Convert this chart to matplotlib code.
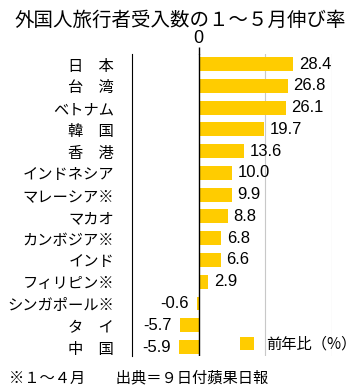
import matplotlib
matplotlib.use("Agg")
import matplotlib.pyplot as plt

plt.rcParams['font.family'] = ['Noto Sans CJK JP', 'DejaVu Sans']

categories = ["日　本", "台　湾", "ベトナム", "韓　国", "香　港", "インドネシア",
              "マレーシア※", "マカオ", "カンボジア※", "インド", "フィリピン※",
              "シンガポール※", "タ　イ", "中　国"]
values = [28.4, 26.8, 26.1, 19.7, 13.6, 10.0, 9.9, 8.8, 6.8, 6.6, 2.9, -0.6, -5.7, -5.9]
title = "外国人旅行者受入数の１～５月伸び率"
legend_label = "前年比（%）"
footnote = "※１～４月　　出典＝９日付蘋果日報"
bar_color = "#FFCC00"

fig = plt.figure(figsize=(3.61, 3.91), dpi=100)
ax = fig.add_axes([0.3657, 0.0895, 0.554, 0.7724])

ypos = list(range(len(categories)))
ax.barh(ypos, values, height=0.64, color=bar_color, zorder=3)
ax.set_xlim(-20, 40)
ax.set_ylim(len(categories) - 0.59, -0.46)

for x in (20, 40):
    ax.axvline(x, color="#c8c8c8", lw=0.8, zorder=1)
ax.axvline(0, color="black", lw=1.0, zorder=4)

for s in ("top", "right", "bottom"):
    ax.spines[s].set_visible(False)
ax.spines["left"].set_linewidth(0.8)

ax.set_yticks(ypos)
ax.set_yticklabels(categories, fontsize=11)
ax.tick_params(axis="y", length=0, pad=13)
ax.set_xticks([0])
ax.set_xticklabels(["0"], fontsize=13, family=["Liberation Sans"])
ax.xaxis.tick_top()
ax.tick_params(axis="x", length=5, width=1, pad=0)

for y, v in zip(ypos, values):
    if v >= 0:
        ax.annotate(f"{v:.1f}", (v, y), xytext=(4, 0), textcoords="offset points",
                    va="center", ha="left", fontsize=12, family=["Liberation Sans"])
    else:
        ax.annotate(f"{v:.1f}", (v, y), xytext=(-6, 0), textcoords="offset points",
                    va="center", ha="right", fontsize=12, family=["Liberation Sans"])

# legend
ax.bar([0], [0], color=bar_color, label=legend_label)
leg = ax.legend(loc="lower right", frameon=False, fontsize=11,
                handlelength=0.9, handleheight=0.9, handletextpad=0.8,
                bbox_to_anchor=(1.19, -0.035))

fig.text(0.5, 0.948, title, ha="center", va="center", fontsize=14)
fig.text(0.025, 0.033, footnote, ha="left", va="center", fontsize=11)

fig.savefig("out.png", dpi=100)
